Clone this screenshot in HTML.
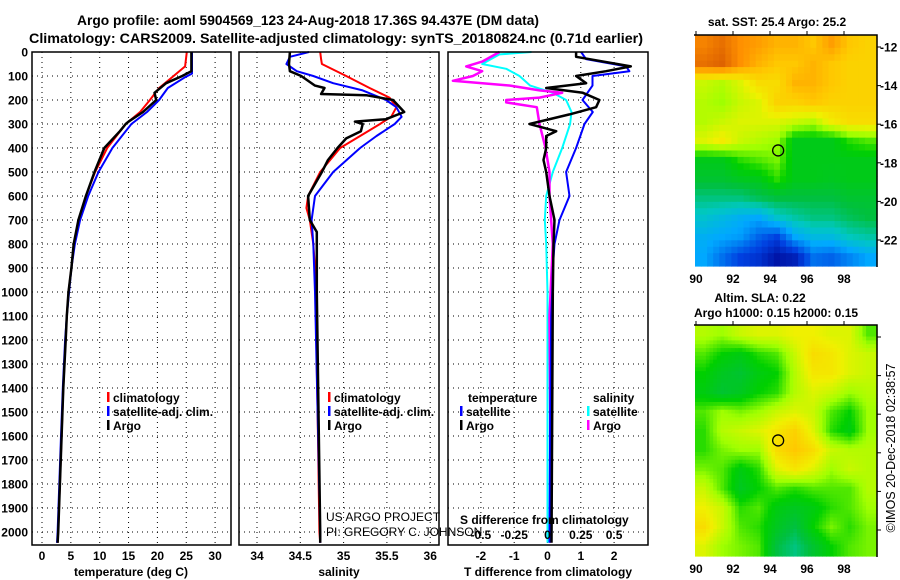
<!DOCTYPE html>
<html><head><meta charset="utf-8"><style>
html,body{margin:0;padding:0;background:#fff}
svg{display:block;font-family:"Liberation Sans",sans-serif;font-weight:bold}
</style></head><body>
<svg id="chart" width="900" height="580" viewBox="0 0 900 580">
<text x="308" y="25" text-anchor="middle" font-size="14" textLength="462" lengthAdjust="spacingAndGlyphs">Argo profile: aoml 5904569_123 24-Aug-2018 17.36S 94.437E (DM data)</text>
<text x="336" y="43" text-anchor="middle" font-size="14" textLength="614" lengthAdjust="spacingAndGlyphs">Climatology: CARS2009. Satellite-adjusted climatology: synTS_20180824.nc (0.71d earlier)</text>
<g id="grids"></g>
<g id="series"></g>
<g id="frames"></g>
<g id="labels"></g>
<g id="maps"></g>
</svg>
<script>
// ---------- DATA ----------
const depthTicks = [0,100,200,300,400,500,600,700,800,900,1000,1100,1200,1300,1400,1500,1600,1700,1800,1900,2000];
const tempTicks = [0,5,10,15,20,25,30];
const salTicks = [34,34.5,35,35.5,36];
const tdiffTicks = [-2,-1,0,1,2];
const sdiffTicks = [-0.5,-0.25,0,0.25,0.5];

const argoTDepth = [0,80,100,130,170,200,250,290,300,330,400,500,600,700,800,900,1000,1100,1200,1400,1600,1800,2000,2045];
const argoT      = [25.9,25.9,24.3,21.5,19.5,19.8,17.5,15.0,14.5,13.5,10.8,9.1,7.6,6.3,5.5,5.1,4.6,4.3,4.1,3.7,3.4,3.1,2.8,2.7];
const climTDepth = [0,60,100,150,200,250,300,400,500,600,700,800,900,1000,1100,1200,1400,1600,1800,2000,2045];
const climT      = [25.1,24.8,22.8,20.3,18.7,17.0,14.5,11.3,9.2,7.6,6.5,5.6,5.1,4.6,4.3,4.1,3.7,3.4,3.1,2.8,2.7];
const satTDepth  = [0,90,105,150,200,250,300,400,500,600,700,800,900,1000,1100,1200,1400,1600,1800,2000,2045];
const satT       = [26.0,26.0,24.8,21.8,20.3,18.2,15.5,12.2,9.8,8.0,6.6,5.7,5.1,4.7,4.3,4.0,3.6,3.3,3.0,2.7,2.6];

const argoSDepth = [0,50,80,100,140,150,175,180,200,250,280,290,300,330,360,400,450,500,600,700,750,800,1000,1500,2000,2045];
const argoS      = [34.38,34.37,34.38,34.51,34.67,34.78,34.74,35.26,35.57,35.70,35.49,35.13,35.22,35.20,35.03,34.93,34.82,34.75,34.59,34.61,34.69,34.69,34.69,34.71,34.73,34.73];
const climSDepth = [0,30,50,100,150,190,230,270,300,350,400,500,600,650,700,800,900,1500,2000,2045];
const climS      = [34.73,34.74,34.75,35.03,35.30,35.53,35.61,35.55,35.42,35.19,34.96,34.73,34.59,34.57,34.61,34.65,34.67,34.70,34.72,34.73];
const satSDepth  = [0,20,50,80,100,130,160,200,230,270,300,350,400,500,600,700,800,1000,1500,2000,2045];
const satS       = [34.60,34.38,34.34,34.46,34.65,34.88,35.22,35.49,35.61,35.67,35.59,35.38,35.19,34.88,34.67,34.63,34.65,34.67,34.70,34.73,34.73];

const satTdDepth = [0,30,60,80,100,140,200,250,300,400,500,600,700,800,900,1000,1100,1500,2045];
const satTd      = [1.01,1.16,2.36,2.46,1.35,1.35,1.05,1.36,1.11,0.86,0.56,0.66,0.36,0.21,0.16,0.14,0.11,0.08,0.06];
const argoTdDepth = [0,20,60,80,100,130,150,170,200,230,260,300,330,350,400,450,500,600,700,800,1000,1500,2045];
const argoTd      = [0.86,0.86,2.5,1.76,0.86,1.16,-0.04,1.06,1.56,1.46,0.66,-0.54,0.26,-0.04,-0.04,-0.12,-0.04,0.06,0.21,0.18,0.16,0.14,0.12];
const argoSdDepth = [0,40,60,80,100,120,140,160,170,190,200,210,230,300,400,500,600,800,1100,1500,2045];
const argoSd      = [-0.36,-0.49,-0.61,-0.49,-0.56,-0.71,-0.28,-0.06,0.11,-0.06,-0.31,-0.31,-0.08,-0.06,-0.015,0.015,0.015,0.04,0.015,0.02,0.02];
const satSdDepth = [0,10,50,70,100,140,170,200,250,300,400,500,600,700,800,1000,1500,2045];
const satSd      = [-0.12,-0.36,-0.49,-0.31,-0.21,-0.13,0.04,0.14,0.18,0.17,0.11,0.04,-0.01,-0.02,-0.01,0.0,0.0,0.0];

const lonTicks = [90,92,94,96,98];
const latTicks = [-12,-14,-16,-18,-20,-22];
const argoLon = 94.44, argoLat = -17.36;
const sstGrid = [
 [.92,.95,.90,.88,.85,.85,.82,.88,.82,.80],
 [.95,.97,.90,.85,.82,.82,.85,.82,.80,.80],
 [.70,.68,.72,.78,.78,.85,.85,.82,.80,.80],
 [.68,.66,.70,.72,.80,.80,.82,.80,.80,.80],
 [.68,.70,.72,.72,.72,.70,.68,.75,.78,.78],
 [.72,.75,.70,.68,.66,.55,.55,.55,.60,.62],
 [.55,.55,.60,.62,.64,.55,.55,.55,.55,.55],
 [.52,.52,.54,.55,.60,.55,.55,.54,.55,.55],
 [.45,.45,.45,.48,.50,.50,.50,.50,.52,.52],
 [.38,.35,.32,.30,.38,.42,.45,.45,.48,.50],
 [.32,.30,.28,.20,.15,.30,.35,.35,.40,.42],
 [.30,.22,.15,.12,.05,.08,.22,.20,.25,.30]];
const slaGrid = [
 [.68,.66,.70,.72,.72,.74,.74,.72,.72,.62],
 [.62,.58,.56,.60,.62,.70,.78,.76,.72,.70],
 [.58,.54,.52,.56,.58,.68,.76,.76,.72,.70],
 [.56,.52,.54,.58,.60,.68,.72,.70,.66,.68],
 [.62,.66,.64,.66,.70,.72,.70,.62,.58,.66],
 [.60,.68,.70,.72,.76,.80,.72,.60,.56,.66],
 [.60,.64,.66,.66,.78,.82,.78,.70,.68,.68],
 [.64,.62,.56,.60,.72,.76,.72,.66,.70,.68],
 [.70,.62,.54,.58,.62,.60,.62,.62,.62,.68],
 [.74,.70,.60,.62,.56,.54,.56,.60,.62,.66],
 [.78,.70,.62,.60,.54,.50,.58,.64,.60,.64],
 [.72,.66,.64,.62,.50,.45,.52,.58,.62,.64]];

// ---------- SCALES ----------
const NS="http://www.w3.org/2000/svg";
const TOP=52, BOT=545, DSC=0.24;
const yD = d => TOP + d*DSC;
const P1={l:32,r:231}, P2={l:239,r:439}, P3={l:448,r:648};
const xT = t => 42 + 5.77*t;
const xS = s => 257 + 86.6*(s-34);
const xTd = t => 547.5 + 33.3*t;
const xSd = s => 547.5 + 133.2*s;
const M1={l:695,r:877,t:35,b:266}, M2={l:695,r:877,t:325,b:556};
const xLon = lon => 696 + 18.5*(lon-90);
const yLat = (m,lat) => m.t + 12 + 19.3*(-12-lat);

function el(tag, attrs, parent, text){
  const e=document.createElementNS(NS,tag);
  for(const k in attrs) e.setAttribute(k,attrs[k]);
  if(text!==undefined) e.textContent=text;
  parent.appendChild(e); return e;
}
const G=document.getElementById('grids'), S=document.getElementById('series'),
      F=document.getElementById('frames'), L=document.getElementById('labels'), MP=document.getElementById('maps');

[P1,P2,P3].forEach(p=>{
  depthTicks.forEach(d=>{ if(d===0) return;
    const g=el('line',{x1:p.l,x2:p.r,y1:yD(d),y2:yD(d),stroke:'#000','stroke-width':1,'stroke-dasharray':'1,4'},G);
    
    
  });
});
tempTicks.forEach(t=>{ const g=el('line',{x1:xT(t),x2:xT(t),y1:TOP,y2:BOT,stroke:'#000','stroke-dasharray':'1,4'},G);
   });
salTicks.forEach(t=>{ const g=el('line',{x1:xS(t),x2:xS(t),y1:TOP,y2:BOT,stroke:'#000','stroke-dasharray':'1,4'},G);
   });
tdiffTicks.forEach(t=>{ const g=el('line',{x1:xTd(t),x2:xTd(t),y1:TOP,y2:BOT,stroke:'#000','stroke-dasharray':'1,4'},G);
   });

function series(depths, vals, xf, color, w, name){
  const pts=depths.map((d,i)=>xf(vals[i]).toFixed(1)+','+yD(d).toFixed(1)).join(' ');
  const p=el('polyline',{points:pts,fill:'none',stroke:color,'stroke-width':w,'stroke-linejoin':'round'},S);
  
  
}
series(climTDepth,climT,xT,'#f00',2,'temperature-climatology-line');
series(satTDepth,satT,xT,'#00f',2,'temperature-satellite-line');
series(argoTDepth,argoT,xT,'#000',2.5,'temperature-argo-line');
series(climSDepth,climS,xS,'#f00',2,'salinity-climatology-line');
series(satSDepth,satS,xS,'#00f',2,'salinity-satellite-line');
series(argoSDepth,argoS,xS,'#000',2.5,'salinity-argo-line');
series(satSdDepth,satSd,xSd,'#0ff',2,'salinity-diff-satellite-line');
series(argoSdDepth,argoSd,xSd,'#f0f',2.5,'salinity-diff-argo-line');
series(satTdDepth,satTd,xTd,'#00f',2,'temperature-diff-satellite-line');
series(argoTdDepth,argoTd,xTd,'#000',2.5,'temperature-diff-argo-line');

[P1,P2,P3].forEach((p,i)=>{
  const r=el('rect',{x:p.l,y:TOP,width:p.r-p.l,height:BOT-TOP,fill:'none',stroke:'#000','stroke-width':1.5},F);
  
  
});

function txt(x,y,s,name,opts){
  const a=Object.assign({x:x,y:y,'font-size':12},opts||{});
  const t=el('text',a,L,s);
  
  
  return t;
}
depthTicks.forEach(d=>txt(28,yD(d)+4.5,String(d),'depth-tick-label',{'text-anchor':'end'}));
tempTicks.forEach(t=>txt(xT(t),560,String(t),'temperature-tick-label',{'text-anchor':'middle'}));
salTicks.forEach(t=>txt(xS(t),560,String(t),'salinity-tick-label',{'text-anchor':'middle'}));
tdiffTicks.forEach(t=>txt(xTd(t),560,String(t),'tdiff-tick-label',{'text-anchor':'middle'}));
sdiffTicks.forEach(t=>txt(xSd(t),539,String(t),'sdiff-tick-label',{'text-anchor':'middle'}));
txt(131,576,'temperature (deg C)','temperature-axis-title',{'text-anchor':'middle'});
txt(339,576,'salinity','salinity-axis-title',{'text-anchor':'middle'});
txt(548,576,'T difference from climatology','tdiff-axis-title',{'text-anchor':'middle'});
txt(460,524,'S difference from climatology','sdiff-axis-title',{});
txt(326,521,'US ARGO PROJECT','credit-project',{'font-weight':'normal'});
txt(326,536,'PI: GREGORY C. JOHNSON','credit-pi',{'font-weight':'normal'});

function legend(x,y,color,label,name){
  const m=el('rect',{x:x,y:y-10,width:2.5,height:10,fill:color},L);
  
  
  txt(x+6,y,label,name+'-label',{});
}
legend(107,402,'#f00','climatology','legend-temp-climatology');
legend(107,416,'#00f','satellite-adj. clim.','legend-temp-satellite');
legend(107,430,'#000','Argo','legend-temp-argo');
legend(328,402,'#f00','climatology','legend-sal-climatology');
legend(328,416,'#00f','satellite-adj. clim.','legend-sal-satellite');
legend(328,430,'#000','Argo','legend-sal-argo');
txt(468,402,'temperature','legend-tdiff-header',{});
txt(593,402,'salinity','legend-sdiff-header',{});
legend(460,416,'#00f','satellite','legend-tdiff-satellite');
legend(460,430,'#000','Argo','legend-tdiff-argo');
legend(587,416,'#0ff','satellite','legend-sdiff-satellite');
legend(587,430,'#f0f','Argo','legend-sdiff-argo');

const stops=[[0,[0,0,140]],[0.15,[0,64,224]],[0.3,[0,168,255]],[0.4,[0,200,192]],[0.5,[0,192,64]],[0.58,[0,208,0]],[0.66,[160,255,0]],[0.74,[240,240,0]],[0.82,[255,200,0]],[0.9,[255,144,0]],[1,[208,80,0]]];
function cmap(v){
  for(let i=1;i<stops.length;i++){ if(v<=stops[i][0]){ const a=stops[i-1],b=stops[i],f=(v-a[0])/(b[0]-a[0]);
    return 'rgb('+a[1].map((c,k)=>Math.round(c+(b[1][k]-c)*f)).join(',')+')'; } }
  return 'rgb(208,80,0)';
}
function sample(grid,r,c){
  const R=grid.length-1, C=grid[0].length-1;
  r=Math.max(0,Math.min(R,r)); c=Math.max(0,Math.min(C,c));
  const r0=Math.floor(r), c0=Math.floor(c), r1=Math.min(R,r0+1), c1=Math.min(C,c0+1), fr=r-r0, fc=c-c0;
  return (grid[r0][c0]*(1-fc)+grid[r0][c1]*fc)*(1-fr)+(grid[r1][c0]*(1-fc)+grid[r1][c1]*fc)*fr;
}
function drawMap(m,grid,name,sub,showLat){
  const rows=grid.length*sub, cols=grid[0].length*sub, cw=(m.r-m.l)/cols, ch=(m.b-m.t)/rows;
  for(let i=0;i<rows;i++) for(let j=0;j<cols;j++){
    const v=sample(grid,(i+0.5)/sub-0.5,(j+0.5)/sub-0.5);
    const c=el('rect',{x:(m.l+j*cw).toFixed(2),y:(m.t+i*ch).toFixed(2),width:(cw+0.6).toFixed(2),height:(ch+0.6).toFixed(2),fill:cmap(v)},MP);
    
    
  }
  const ax=el('path',{d:`M${m.l-1} ${m.t}H${m.r}V${m.b+1}`,fill:'none',stroke:'#000','stroke-width':1.5},MP);
   
  lonTicks.forEach(lon=>{
    el('line',{x1:xLon(lon),x2:xLon(lon),y1:m.t-4,y2:m.t,stroke:'#000'},MP);
    txt(xLon(lon),m.b+17,String(lon),name+'-lon-label',{'text-anchor':'middle'});
  });
  latTicks.forEach(lat=>{
    el('line',{x1:m.r,x2:m.r+4,y1:yLat(m,lat),y2:yLat(m,lat),stroke:'#000'},MP);
    if(showLat) txt(880,yLat(m,lat)+4.5,String(lat),name+'-lat-label',{});
  });
  const c=el('circle',{cx:xLon(argoLon),cy:yLat(m,argoLat),r:5.5,fill:'none',stroke:'#000','stroke-width':1.3},MP);
  
  
}
drawMap(M1,sstGrid,'sst-map',3,true);
drawMap(M2,slaGrid,'sla-map',5,false);
txt(777,26,'sat. SST: 25.4 Argo: 25.2','sst-map-title',{'text-anchor':'middle'});
txt(760,302,'Altim. SLA: 0.22','sla-map-title',{'text-anchor':'middle'});
txt(776,317,'Argo h1000: 0.15 h2000: 0.15','sla-map-subtitle',{'text-anchor':'middle'});
txt(0,0,'©IMOS 20-Dec-2018 02:38:57','timestamp-credit',{'font-weight':'normal','font-size':13,textLength:169,lengthAdjust:'spacingAndGlyphs',transform:'translate(895,448) rotate(-90)','text-anchor':'middle'});
</script>
</body></html>
